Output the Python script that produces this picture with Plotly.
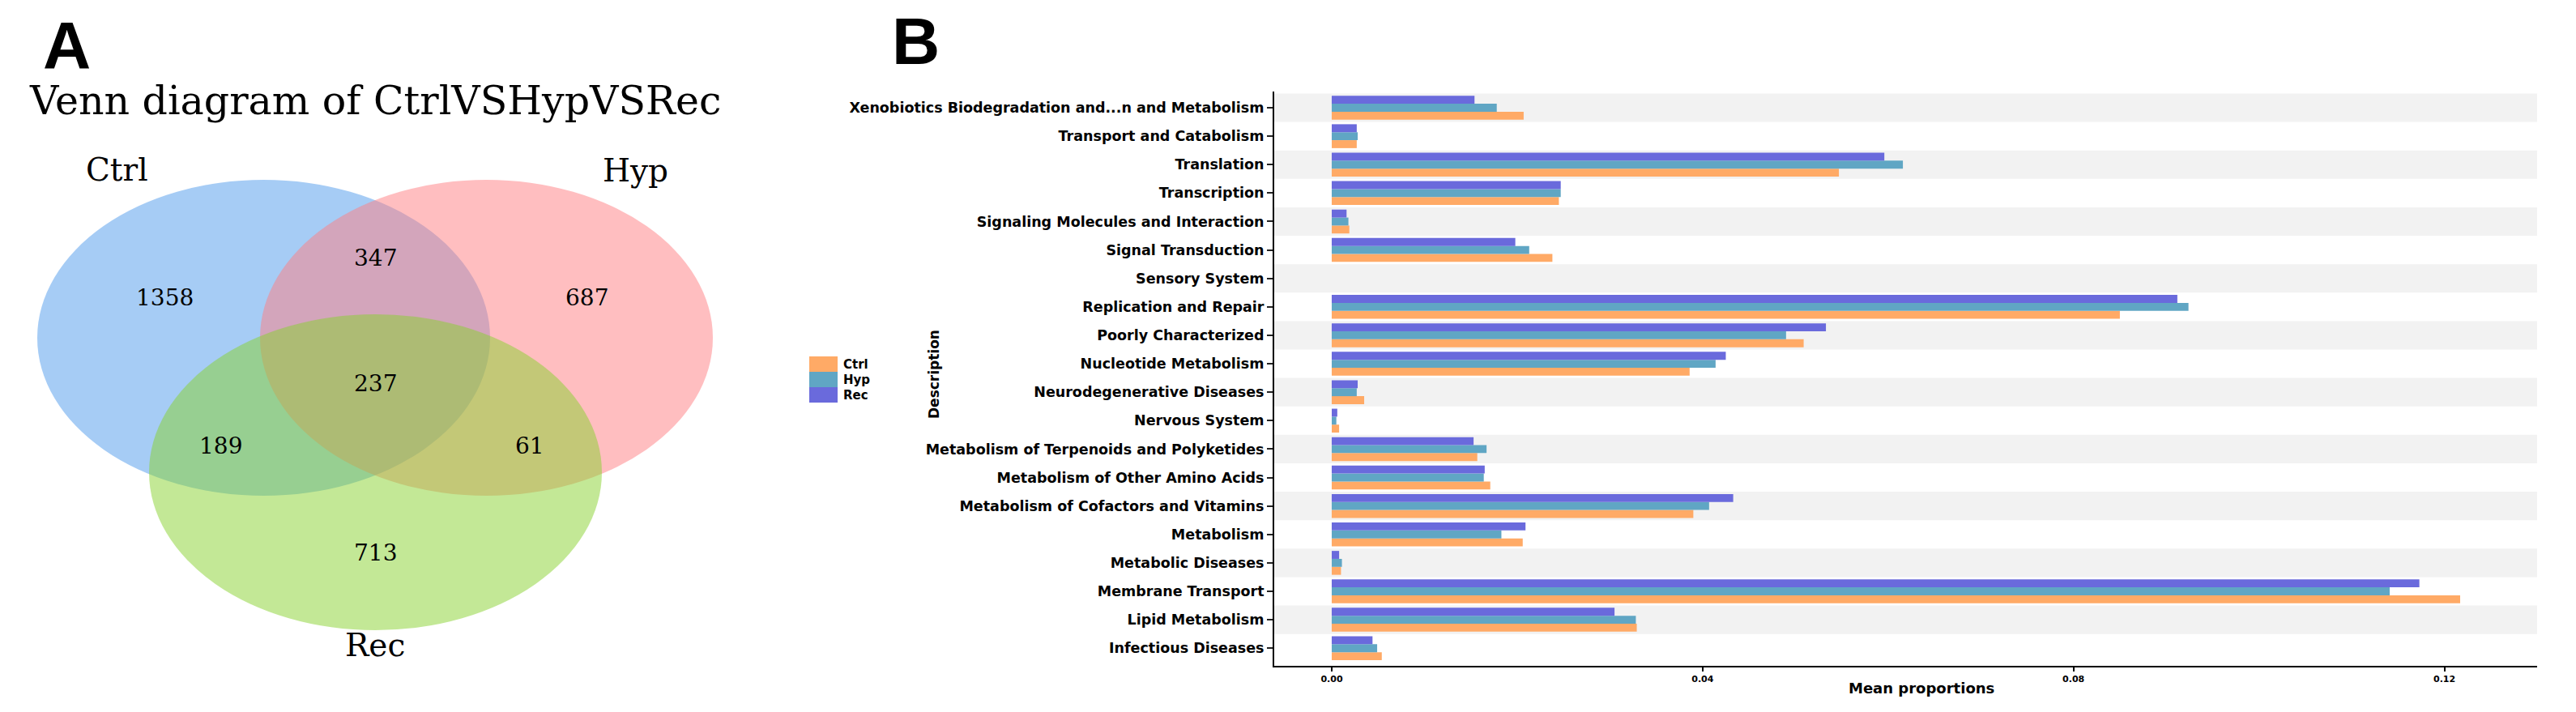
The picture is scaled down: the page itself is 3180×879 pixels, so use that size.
import plotly.graph_objects as go

# ---------------- data: panel B (top -> bottom as displayed) ----------------
categories = [
    "Xenobiotics Biodegradation and...n and Metabolism",
    "Transport and Catabolism",
    "Translation",
    "Transcription",
    "Signaling Molecules and Interaction",
    "Signal Transduction",
    "Sensory System",
    "Replication and Repair",
    "Poorly Characterized",
    "Nucleotide Metabolism",
    "Neurodegenerative Diseases",
    "Nervous System",
    "Metabolism of Terpenoids and Polyketides",
    "Metabolism of Other Amino Acids",
    "Metabolism of Cofactors and Vitamins",
    "Metabolism",
    "Metabolic Diseases",
    "Membrane Transport",
    "Lipid Metabolism",
    "Infectious Diseases",
]
ctrl = [0.0207, 0.0027, 0.0547, 0.0245, 0.0019, 0.0238, 0.0, 0.0850, 0.0509, 0.0386,
        0.0035, 0.0008, 0.0157, 0.0171, 0.0390, 0.0206, 0.0010, 0.1217, 0.0329, 0.0054]
hyp = [0.0178, 0.0028, 0.0616, 0.0247, 0.0018, 0.0213, 0.0, 0.0924, 0.0490, 0.0414,
       0.0027, 0.0005, 0.0167, 0.0164, 0.0407, 0.0183, 0.0011, 0.1141, 0.0328, 0.0049]
rec = [0.0154, 0.0027, 0.0596, 0.0247, 0.0016, 0.0198, 0.0, 0.0912, 0.0533, 0.0425,
       0.0028, 0.0006, 0.0153, 0.0165, 0.0433, 0.0209, 0.0008, 0.1173, 0.0305, 0.0044]
series_names = ["Ctrl", "Hyp", "Rec"]
x_ticks = [0.00, 0.04, 0.08, 0.12]
x_tick_labels = ["0.00", "0.04", "0.08", "0.12"]

# ---------------- data: panel A (Venn) ----------------
venn_sets = ["Ctrl", "Hyp", "Rec"]
venn_regions = ["Ctrl only", "Ctrl&Hyp", "Hyp only", "Ctrl&Hyp&Rec", "Ctrl&Rec", "Hyp&Rec", "Rec only"]
venn_counts = [1358, 347, 687, 237, 189, 61, 713]

# ---------------- styles / layout geometry ----------------
W, H = 3180, 879
series_colors = {"Ctrl": "#FFAA66", "Hyp": "#60A6C4", "Rec": "#6A6ADC"}
venn_colors = ["rgb(77,153,235)", "rgb(255,125,129)", "rgb(135,209,45)"]
# ellipse boxes (pixel space of the Venn panel)
venn_boxes = [(46, 222, 605, 612), (321, 222, 880, 612), (184, 388, 743, 778)]
venn_set_label_pos = [(144, 209), (784, 210), (463, 796)]
venn_region_pos = [(203, 367), (463, 318), (724, 367), (463, 473), (272, 550), (654, 550), (463, 682)]

fig = go.Figure()

cat_bottom_up = categories[::-1]
for name, vals in zip(series_names, [ctrl, hyp, rec]):
    fig.add_trace(go.Bar(
        name=name, x=vals[::-1], y=cat_bottom_up, orientation="h",
        marker=dict(color=series_colors[name], line=dict(width=0)),
        xaxis="x", yaxis="y", showlegend=False,
    ))

# invisible trace to create the Venn subplot
fig.add_trace(go.Scatter(x=[], y=[], xaxis="x2", yaxis="y2", showlegend=False, hoverinfo="skip"))

shapes = []
# alternating row bands
for i, _ in enumerate(cat_bottom_up):
    if i % 2 == 1:
        shapes.append(dict(type="rect", xref="x domain", yref="y", x0=0, x1=1,
                           y0=i - 0.5, y1=i + 0.5, fillcolor="#F2F2F2",
                           line=dict(width=0), layer="below"))
# Venn ellipses
for (x0, y0, x1, y1), c in zip(venn_boxes, venn_colors):
    shapes.append(dict(type="circle", xref="x2", yref="y2", x0=x0, y0=y0, x1=x1, y1=y1,
                       fillcolor=c, opacity=0.5, line=dict(width=0), layer="above"))

annotations = []
sans = "DejaVu Sans"
serif = "DejaVu Serif"

# legend (swatch blocks + labels), ggplot style
leg_x0, leg_y0, sw_w, sw_h = 999, 440, 35, 19
for k, name in enumerate(series_names):
    shapes.append(dict(type="rect", xref="paper", yref="paper",
                       x0=leg_x0 / W, x1=(leg_x0 + sw_w) / W,
                       y0=1 - (leg_y0 + (k + 1) * sw_h) / H, y1=1 - (leg_y0 + k * sw_h) / H,
                       fillcolor=series_colors[name], line=dict(width=0)))
    annotations.append(dict(text=name, x=(leg_x0 + sw_w + 5) / W,
                            y=1 - (leg_y0 + (k + 0.5) * sw_h) / H, xref="paper", yref="paper",
                            showarrow=False, xanchor="left", yanchor="middle",
                            font=dict(family=sans, size=15, color="black", weight="bold")))

annotations.append(dict(text="Venn diagram of CtrlVSHypVSRec", x=463, y=124, xref="x2", yref="y2",
                        showarrow=False, font=dict(family=serif, size=49, color="black"),
                        xanchor="center", yanchor="middle"))
for lab, (px, py) in zip(venn_sets, venn_set_label_pos):
    annotations.append(dict(text=lab, x=px, y=py, xref="x2", yref="y2", showarrow=False,
                            font=dict(family=serif, size=39, color="black"),
                            xanchor="center", yanchor="middle"))
for cnt, (px, py) in zip(venn_counts, venn_region_pos):
    annotations.append(dict(text=str(cnt), x=px, y=py, xref="x2", yref="y2", showarrow=False,
                            font=dict(family=serif, size=28, color="black"),
                            xanchor="center", yanchor="middle"))
# panel letters
annotations.append(dict(text="<b>A</b>", x=82, y=55, xref="x2", yref="y2", showarrow=False,
                        font=dict(family="Liberation Sans", size=82, color="black"),
                        xanchor="center", yanchor="middle"))
annotations.append(dict(text="<b>B</b>", x=1130 / W, y=1 - 50 / H, xref="paper", yref="paper",
                        showarrow=False, font=dict(family="Liberation Sans", size=82, color="black"),
                        xanchor="center", yanchor="middle"))
# axis titles
annotations.append(dict(text="Description", x=1153 / W, y=1 - 462 / H, xref="paper", yref="paper",
                        showarrow=False, textangle=-90, xanchor="center", yanchor="middle",
                        font=dict(family=sans, size=17, color="black", weight="bold")))
annotations.append(dict(text="Mean proportions", x=2372 / W, y=1 - 849 / H, xref="paper", yref="paper",
                        showarrow=False, xanchor="center", yanchor="middle",
                        font=dict(family=sans, size=18, color="black", weight="bold")))

fig.update_layout(
    width=W, height=H,
    margin=dict(l=0, r=0, t=0, b=0),
    paper_bgcolor="white", plot_bgcolor="white",
    barmode="group", bargap=0.16, bargroupgap=0,
    showlegend=False,
    xaxis=dict(domain=[1573 / W, 3132 / W], range=[-0.0062, 0.1300], anchor="y",
               tickvals=x_ticks, ticktext=x_tick_labels, ticks="outside", ticklen=5, tickwidth=2,
               tickcolor="black", showline=True, linecolor="black", linewidth=2,
               showgrid=False, zeroline=False,
               tickfont=dict(family=sans, size=11, color="black", weight="bold")),
    yaxis=dict(domain=[1 - 822 / H, 1 - 113 / H], anchor="x", type="category",
               categoryorder="array", categoryarray=cat_bottom_up, range=[-0.62, 19.57],
               ticks="outside", ticklen=7, tickwidth=2, tickcolor="#222",
               showline=True, linecolor="black", linewidth=2, showgrid=False, zeroline=False,
               tickfont=dict(family=sans, size=17.5, color="black", weight="bold")),
    xaxis2=dict(domain=[0, 950 / W], range=[0, 950], anchor="y2", visible=False, fixedrange=True),
    yaxis2=dict(domain=[0, 1], range=[H, 0], anchor="x2", visible=False, fixedrange=True),
    shapes=shapes,
    annotations=annotations,
)

fig.write_html("out.html", config={"displayModeBar": False},
               post_script="document.body.style.margin='0px';document.body.style.overflow='hidden';")
